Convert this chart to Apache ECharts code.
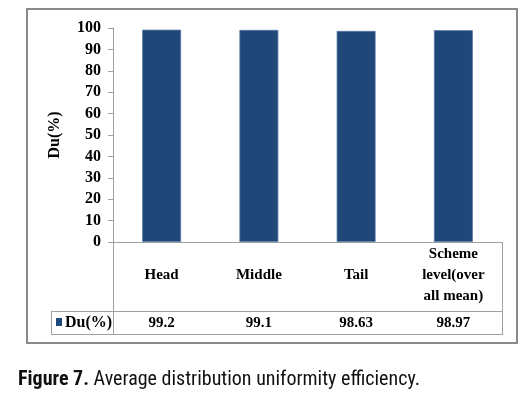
<!DOCTYPE html>
<html><head><meta charset="utf-8">
<script src="https://cdn.jsdelivr.net/npm/echarts@6/dist/echarts.min.js"></script>
<style>html,body{margin:0;padding:0;background:#fff}#c{width:531px;height:393px}</style>
</head><body><div id="c"></div>
<script>
const categories = ["Head", "Middle", "Tail", "Scheme\nlevel(over\nall mean)"];
const duValues = [99.2, 99.1, 98.63, 98.97];
const seriesName = "Du(%)";
const yTicks = {min: 0, max: 100, interval: 10};
const caption = ["Figure 7.", " Average distribution uniformity efficiency."];

const serif = '"Liberation Serif","Times New Roman",serif';
const narrow = '"Roboto Condensed","Liberation Sans Narrow","DejaVu Sans Condensed","Arial Narrow",Roboto,sans-serif';
const barColor = '#1f4778';
const lineCol = '#a0a0a0';

const chart = echarts.init(document.getElementById('c'), null, {renderer: 'canvas'});
chart.setOption({
  animation: false,
  backgroundColor: '#fff',
  grid: {left: 113, right: 29, top: 28, bottom: 151, containLabel: false},
  xAxis: [{
    type: 'category', data: categories, position: 'bottom',
    axisLine: {show: true, lineStyle: {color: lineCol, width: 1}},
    axisTick: {show: false},
    axisLabel: {margin: 33, verticalAlign: 'middle', color: '#000', fontFamily: serif, fontWeight: 'bold', fontSize: 15, lineHeight: 21, interval: 0}
  }, {
    type: 'category', data: duValues.map(String), position: 'bottom',
    axisLine: {show: false}, axisTick: {show: false},
    axisLabel: {margin: 81, verticalAlign: 'middle', color: '#000', fontFamily: serif, fontWeight: 'bold', fontSize: 15, interval: 0}
  }],
  yAxis: {
    type: 'value', min: yTicks.min, max: yTicks.max, interval: yTicks.interval,
    name: 'Du(%)', nameLocation: 'middle', nameGap: 50, nameRotate: 90,
    nameTextStyle: {color: '#000', fontFamily: serif, fontWeight: 'bold', fontSize: 16},
    axisLine: {show: true, lineStyle: {color: lineCol}},
    axisTick: {show: true, inside: false, length: 5, lineStyle: {color: lineCol}},
    splitLine: {show: false},
    axisLabel: {margin: 12, color: '#000', fontFamily: serif, fontWeight: 'bold', fontSize: 16}
  },
  series: [{
    type: 'bar', name: seriesName, data: duValues, xAxisIndex: 0,
    barWidth: '40%',
    itemStyle: {color: barColor, borderColor: '#5578a6', borderWidth: 0.8}
  }],
  graphic: [
    {type: 'rect', shape: {x: 27, y: 9, width: 490, height: 334}, style: {fill: 'none', stroke: '#8a8a8a', lineWidth: 2}, z: 10},
    {type: 'line', shape: {x1: 51, y1: 311.5, x2: 502, y2: 311.5}, style: {stroke: lineCol, lineWidth: 1}},
    {type: 'line', shape: {x1: 51, y1: 334.5, x2: 502, y2: 334.5}, style: {stroke: lineCol, lineWidth: 1}},
    {type: 'line', shape: {x1: 113.5, y1: 242, x2: 113.5, y2: 335}, style: {stroke: lineCol, lineWidth: 1}},
    {type: 'line', shape: {x1: 502.5, y1: 242, x2: 502.5, y2: 335}, style: {stroke: lineCol, lineWidth: 1}},
    {type: 'line', shape: {x1: 51.5, y1: 311, x2: 51.5, y2: 335}, style: {stroke: lineCol, lineWidth: 1}},
    {type: 'rect', shape: {x: 56, y: 318, width: 6, height: 8}, style: {fill: barColor}},
    {type: 'text', x: 65, y: 323, style: {text: seriesName, fill: '#000', font: 'bold 16px ' + serif, verticalAlign: 'middle', textAlign: 'left'}},
    {type: 'text', x: 18, y: 380, style: {
      text: '{b|' + caption[0] + '}{r|' + caption[1] + '}', verticalAlign: 'middle',
      rich: {
        b: {fontFamily: narrow, fontWeight: 'bold', fontSize: 20, fill: '#111', color: '#111'},
        r: {fontFamily: narrow, fontWeight: 'normal', fontSize: 20, fill: '#111', color: '#111'}
      }
    }}
  ]
});
</script></body></html>
